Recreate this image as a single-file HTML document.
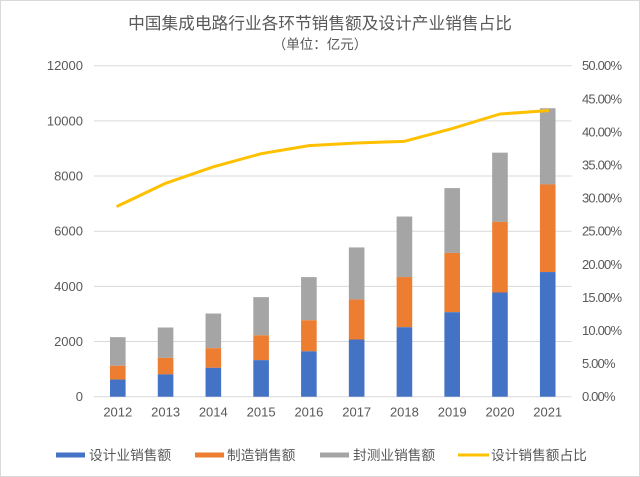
<!DOCTYPE html>
<html><head><meta charset="utf-8">
<style>
html,body{margin:0;padding:0;background:#fff;}
svg{display:block;}
text{font-family:"Liberation Sans","Noto Sans CJK SC",sans-serif;fill:#595959;}
</style></head>
<body>
<svg width="640" height="477" viewBox="0 0 640 477" xmlns="http://www.w3.org/2000/svg">
<rect x="0.5" y="0.5" width="639" height="476" fill="#fff" stroke="#D9D9D9" stroke-width="1"/>
<text x="320" y="29" text-anchor="middle" font-size="16.7" font-family="'Noto Sans CJK SC',sans-serif">中国集成电路行业各环节销售额及设计产业销售占比</text>
<text x="320" y="49" text-anchor="middle" font-size="13.5" font-family="'Noto Sans CJK SC',sans-serif">（单位：亿元）</text>
<g stroke="#D9D9D9" stroke-width="1">
<line x1="93.9" x2="571.6" y1="65.7" y2="65.7"/>
<line x1="93.9" x2="571.6" y1="120.9" y2="120.9"/>
<line x1="93.9" x2="571.6" y1="176.0" y2="176.0"/>
<line x1="93.9" x2="571.6" y1="231.2" y2="231.2"/>
<line x1="93.9" x2="571.6" y1="286.4" y2="286.4"/>
<line x1="93.9" x2="571.6" y1="341.5" y2="341.5"/>
<line x1="93.9" x2="571.6" y1="396.7" y2="396.7"/>
</g>
<g font-size="13" text-anchor="end">
<text x="83" y="70.2">12000</text>
<text x="83" y="125.4">10000</text>
<text x="83" y="180.5">8000</text>
<text x="83" y="235.7">6000</text>
<text x="83" y="290.9">4000</text>
<text x="83" y="346">2000</text>
<text x="83" y="401.2">0</text>
</g>
<g font-size="13">
<text x="582" y="70.2" textLength="40">50.00%</text>
<text x="582" y="103.3" textLength="40">45.00%</text>
<text x="582" y="136.4" textLength="40">40.00%</text>
<text x="582" y="169.5" textLength="40">35.00%</text>
<text x="582" y="202.6" textLength="40">30.00%</text>
<text x="582" y="235.7" textLength="40">25.00%</text>
<text x="582" y="268.8" textLength="40">20.00%</text>
<text x="582" y="301.9" textLength="40">15.00%</text>
<text x="582" y="335" textLength="40">10.00%</text>
<text x="582" y="368.1" textLength="33.5">5.00%</text>
<text x="582" y="401.2" textLength="33.5">0.00%</text>
</g>
<g font-size="13" text-anchor="middle">
<text x="117.8" y="416.5">2012</text>
<text x="165.6" y="416.5">2013</text>
<text x="213.3" y="416.5">2014</text>
<text x="261.1" y="416.5">2015</text>
<text x="308.9" y="416.5">2016</text>
<text x="356.7" y="416.5">2017</text>
<text x="404.4" y="416.5">2018</text>
<text x="452.2" y="416.5">2019</text>
<text x="500" y="416.5">2020</text>
<text x="547.7" y="416.5">2021</text>
</g>
<!-- bars -->
<g>
<rect x="110" y="337.16" width="15.6" height="28.57" fill="#A5A5A5"/>
<rect x="110" y="365.73" width="15.6" height="13.82" fill="#ED7D31"/>
<rect x="110" y="379.55" width="15.6" height="17.15" fill="#4472C4"/>

<rect x="157.77" y="327.51" width="15.6" height="30.31" fill="#A5A5A5"/>
<rect x="157.77" y="357.82" width="15.6" height="16.57" fill="#ED7D31"/>
<rect x="157.77" y="374.39" width="15.6" height="22.31" fill="#4472C4"/>

<rect x="205.54" y="313.53" width="15.6" height="34.64" fill="#A5A5A5"/>
<rect x="205.54" y="348.17" width="15.6" height="19.64" fill="#ED7D31"/>
<rect x="205.54" y="367.81" width="15.6" height="28.89" fill="#4472C4"/>

<rect x="253.31" y="297.13" width="15.6" height="38.18" fill="#A5A5A5"/>
<rect x="253.31" y="335.31" width="15.6" height="24.84" fill="#ED7D31"/>
<rect x="253.31" y="360.15" width="15.6" height="36.55" fill="#4472C4"/>

<rect x="301.08" y="277.11" width="15.6" height="43.15" fill="#A5A5A5"/>
<rect x="301.08" y="320.26" width="15.6" height="31.09" fill="#ED7D31"/>
<rect x="301.08" y="351.35" width="15.6" height="45.35" fill="#4472C4"/>

<rect x="348.85" y="247.44" width="15.6" height="52.12" fill="#A5A5A5"/>
<rect x="348.85" y="299.56" width="15.6" height="39.95" fill="#ED7D31"/>
<rect x="348.85" y="339.51" width="15.6" height="57.19" fill="#4472C4"/>

<rect x="396.62" y="216.54" width="15.6" height="60.52" fill="#A5A5A5"/>
<rect x="396.62" y="277.06" width="15.6" height="50.15" fill="#ED7D31"/>
<rect x="396.62" y="327.21" width="15.6" height="69.49" fill="#4472C4"/>

<rect x="444.39" y="188.11" width="15.6" height="64.81" fill="#A5A5A5"/>
<rect x="444.39" y="252.92" width="15.6" height="59.28" fill="#ED7D31"/>
<rect x="444.39" y="312.2" width="15.6" height="84.5" fill="#4472C4"/>

<rect x="492.16" y="152.65" width="15.6" height="69.22" fill="#A5A5A5"/>
<rect x="492.16" y="221.87" width="15.6" height="70.61" fill="#ED7D31"/>
<rect x="492.16" y="292.48" width="15.6" height="104.22" fill="#4472C4"/>

<rect x="539.93" y="108.23" width="15.6" height="76.21" fill="#A5A5A5"/>
<rect x="539.93" y="184.44" width="15.6" height="87.61" fill="#ED7D31"/>
<rect x="539.93" y="272.05" width="15.6" height="124.65" fill="#4472C4"/>
</g>
<polyline fill="none" stroke="#FFC000" stroke-width="3" stroke-linejoin="round" stroke-linecap="round"
points="117.8,206.04 165.57,183.27 213.34,166.77 261.11,153.7 308.88,145.62 356.65,143.03 404.42,141.35 452.19,128.52 499.96,114.0 547.73,110.65"/>
<!-- legend -->
<g font-size="13.7" font-family="'Noto Sans CJK SC',sans-serif">
<rect x="56" y="452.5" width="29" height="5" fill="#4472C4"/>
<text x="89" y="460">设计业销售额</text>
<rect x="195" y="452.5" width="29" height="5" fill="#ED7D31"/>
<text x="227" y="460">制造销售额</text>
<rect x="320" y="452.5" width="29" height="5" fill="#A5A5A5"/>
<text x="353" y="460">封测业销售额</text>
<line x1="458" x2="489" y1="455" y2="455" stroke="#FFC000" stroke-width="3"/>
<text x="491" y="460">设计销售额占比</text>
</g>
</svg>
</body></html>
